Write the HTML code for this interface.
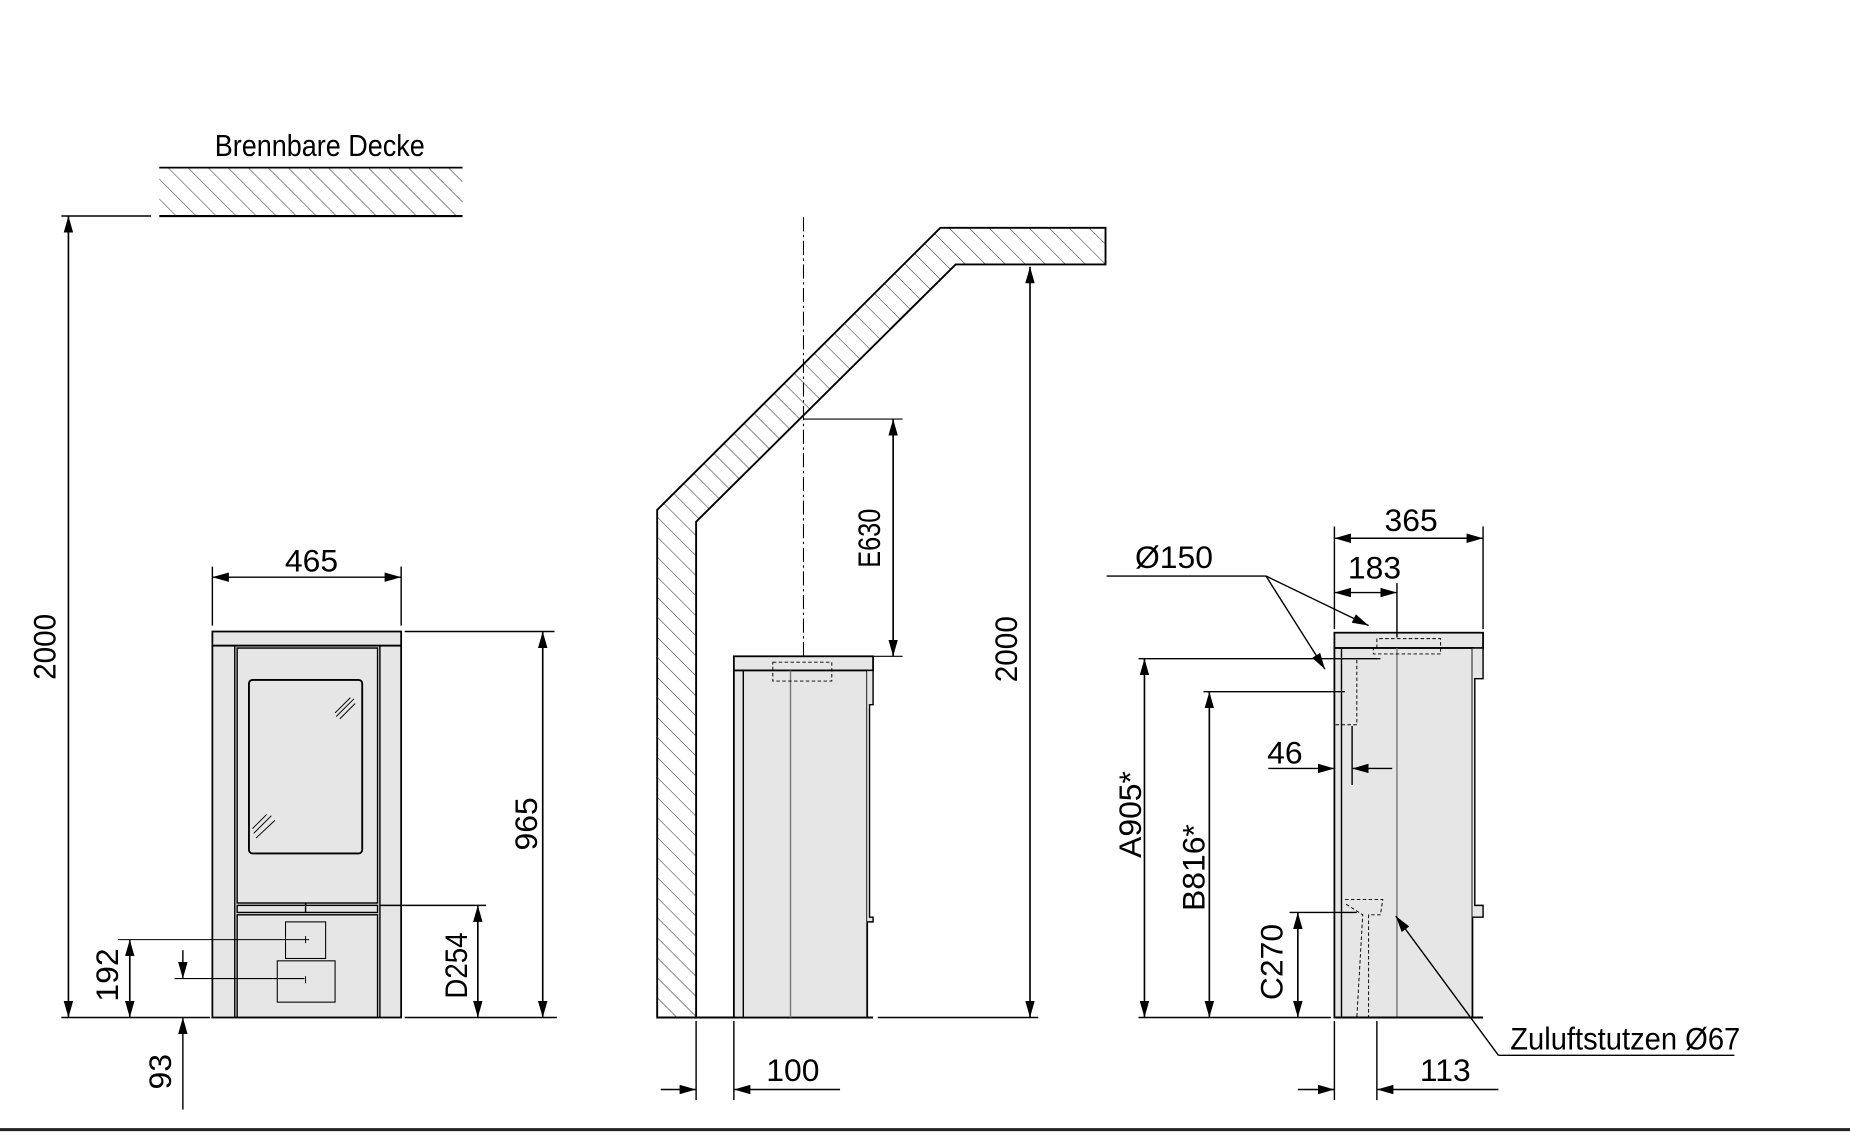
<!DOCTYPE html>
<html><head><meta charset="utf-8"><style>
html,body{margin:0;padding:0;background:#fff;}
svg{display:block}
text{font-family:"Liberation Sans",sans-serif;fill:#000}
</style></head><body>
<svg width="1850" height="1132" viewBox="0 0 1568 959" preserveAspectRatio="none" xmlns="http://www.w3.org/2000/svg">
<defs>
<pattern id="h" width="12" height="12" patternUnits="userSpaceOnUse" patternTransform="rotate(-45)">
<line x1="0" y1="0" x2="0" y2="12" stroke="#333" stroke-width="0.9"/>
</pattern>
<marker id="a" viewBox="0 0 14 8" refX="14" refY="4" markerWidth="14" markerHeight="8" markerUnits="userSpaceOnUse" orient="auto-start-reverse">
<path d="M0,0 L14,4 L0,8 z" fill="#000"/>
</marker>
</defs>
<g stroke="#000" fill="none" stroke-width="1.2">

<!-- LEFT VIEW -->
<text x="182" y="132" font-size="26" textLength="178" lengthAdjust="spacingAndGlyphs" stroke="none">Brennbare Decke</text>
<rect x="135" y="142" width="257" height="41" fill="url(#h)" stroke="none"/>
<line x1="135" y1="142" x2="392" y2="142" stroke-width="1.5"/>
<line x1="135" y1="183" x2="392" y2="183" stroke-width="1.8"/>
<line x1="52" y1="183" x2="128" y2="183"/>
<line x1="58" y1="183" x2="58" y2="862" marker-start="url(#a)" marker-end="url(#a)" stroke-width="1.4"/>
<text transform="translate(47,548) rotate(-90)" font-size="27" text-anchor="middle" textLength="56" lengthAdjust="spacingAndGlyphs" stroke="none">2000</text>
<line x1="52" y1="862" x2="178" y2="862"/>
<line x1="343" y1="862" x2="472" y2="862"/>

<!-- stove front -->
<rect x="180" y="535" width="160" height="12" fill="#e6e6e6" stroke-width="1.5"/>
<rect x="180" y="547" width="160" height="315" fill="#e6e6e6" stroke-width="1.5"/>
<line x1="199" y1="547" x2="199" y2="862"/>
<line x1="322" y1="547" x2="322" y2="862"/>
<rect x="201" y="549" width="119" height="216" fill="#e6e6e6"/>
<rect x="211" y="576" width="96" height="147" rx="3" stroke-width="1.6"/>
<g stroke-width="0.8">
<line x1="285" y1="607" x2="300" y2="592"/><line x1="288" y1="609" x2="301" y2="596"/><line x1="284" y1="604" x2="297" y2="591"/>
<line x1="215" y1="706" x2="230" y2="691"/><line x1="217" y1="710" x2="233" y2="695"/><line x1="214" y1="702" x2="226" y2="690"/>
</g>
<rect x="201" y="767" width="119" height="6"/>
<line x1="259" y1="765" x2="259" y2="773"/>
<rect x="201" y="775" width="119" height="87"/>
<rect x="242" y="781" width="34" height="31" stroke-width="0.9"/>
<rect x="235" y="814" width="49" height="35" stroke-width="0.9"/>
<line x1="259" y1="793" x2="259" y2="799" stroke-width="0.8"/>
<line x1="259" y1="827" x2="259" y2="833" stroke-width="0.8"/>

<line x1="180" y1="480" x2="180" y2="530"/>
<line x1="340" y1="480" x2="340" y2="530"/>
<line x1="180" y1="489" x2="340" y2="489" marker-start="url(#a)" marker-end="url(#a)"/>
<text x="264" y="484" font-size="27" text-anchor="middle" stroke="none">465</text>

<line x1="343" y1="535" x2="470" y2="535"/>
<line x1="460" y1="535" x2="460" y2="862" marker-start="url(#a)" marker-end="url(#a)" stroke-width="1.4"/>
<text transform="translate(455,698) rotate(-90)" font-size="27" text-anchor="middle" stroke="none">965</text>

<line x1="322" y1="767" x2="412" y2="767"/>
<line x1="405" y1="767" x2="405" y2="862" marker-start="url(#a)" marker-end="url(#a)" stroke-width="1.4"/>
<text transform="translate(396,818) rotate(-90)" font-size="27" text-anchor="middle" textLength="56" lengthAdjust="spacingAndGlyphs" stroke="none">D254</text>

<line x1="100" y1="796" x2="262" y2="796" stroke-width="0.9"/>
<line x1="110" y1="796" x2="110" y2="862" marker-start="url(#a)" marker-end="url(#a)" stroke-width="1.4"/>
<text transform="translate(100,826) rotate(-90)" font-size="27" text-anchor="middle" stroke="none">192</text>

<line x1="148" y1="829" x2="258" y2="829" stroke-width="0.9"/>
<line x1="155" y1="805" x2="155" y2="829" marker-end="url(#a)"/>
<line x1="155" y1="940" x2="155" y2="862" marker-end="url(#a)"/>
<text transform="translate(145,908) rotate(-90)" font-size="27" text-anchor="middle" stroke="none">93</text>

<!-- MIDDLE VIEW -->
<path d="M557,862 L557,432 L797,193 L937,193 L937,224 L810,224 L590,442 L590,862 Z" fill="url(#h)" stroke-width="1.6"/>
<line x1="681" y1="184" x2="681" y2="556" stroke-width="0.9" stroke-dasharray="12,3,2,3"/>
<line x1="681" y1="355" x2="765" y2="355" stroke-width="0.9"/>
<line x1="740" y1="556" x2="765" y2="556" stroke-width="0.9"/>
<line x1="757" y1="355" x2="757" y2="556" marker-start="url(#a)" marker-end="url(#a)" stroke-width="1.4"/>
<text transform="translate(746,456) rotate(-90)" font-size="27" text-anchor="middle" textLength="50" lengthAdjust="spacingAndGlyphs" stroke="none">E630</text>
<line x1="873" y1="226" x2="873" y2="862" marker-start="url(#a)" marker-end="url(#a)" stroke-width="1.4"/>
<text transform="translate(862,550) rotate(-90)" font-size="27" text-anchor="middle" textLength="56" lengthAdjust="spacingAndGlyphs" stroke="none">2000</text>
<line x1="557" y1="862" x2="740" y2="862" stroke-width="1.6"/>
<line x1="744" y1="862" x2="880" y2="862"/>

<rect x="622" y="556" width="118" height="12" fill="#e6e6e6" stroke-width="1.5"/>
<rect x="622" y="568" width="113" height="294" fill="#e6e6e6" stroke-width="1.5"/>
<line x1="630" y1="568" x2="630" y2="862"/>
<line x1="670" y1="568" x2="670" y2="862" stroke="#777"/>
<rect x="655" y="561" width="50" height="16" stroke-dasharray="3,2" stroke-width="0.8"/>
<path d="M735,568 L740,568 L740,597 L737,597 L737,777 L740,777 L740,781 L735,781" fill="#e6e6e6"/>
<line x1="590" y1="865" x2="590" y2="932"/>
<line x1="622" y1="865" x2="622" y2="932"/>
<line x1="560" y1="923" x2="590" y2="923" marker-end="url(#a)"/>
<line x1="712" y1="923" x2="622" y2="923" marker-end="url(#a)"/>
<text x="672" y="916" font-size="27" text-anchor="middle" stroke="none">100</text>

<!-- RIGHT VIEW -->
<rect x="1131" y="536" width="126" height="13" fill="#e6e6e6" stroke-width="1.5"/>
<rect x="1131" y="549" width="117" height="313" fill="#e6e6e6" stroke-width="1.5"/>
<line x1="1137" y1="549" x2="1137" y2="862"/>
<line x1="1184" y1="549" x2="1184" y2="862" stroke="#777"/>
<path d="M1248,549 L1257,549 L1257,575 L1250,575 L1250,767 L1257,767 L1257,777 L1248,777" fill="#e6e6e6"/>
<line x1="1131" y1="862" x2="1257" y2="862" stroke-width="1.6"/>
<path d="M1167,549 L1167,541 L1221,541 L1221,554 L1164,554 L1164,549" stroke-dasharray="3,2" stroke-width="0.8"/>
<path d="M1131,558 L1150,558 L1150,614 L1131,614" stroke-dasharray="3,2" stroke-width="0.8"/>
<path d="M1140,762 L1172,762 L1170,775 L1160,775 L1160,862 M1141,766 L1155,775 L1150,862" stroke-dasharray="3,2" stroke-width="0.8"/>

<line x1="1131" y1="446" x2="1131" y2="533"/>
<line x1="1257" y1="446" x2="1257" y2="533"/>
<line x1="1131" y1="456" x2="1257" y2="456" marker-start="url(#a)" marker-end="url(#a)"/>
<text x="1196" y="450" font-size="27" text-anchor="middle" stroke="none">365</text>
<line x1="1184" y1="494" x2="1184" y2="540"/>
<line x1="1131" y1="502" x2="1184" y2="502" marker-start="url(#a)" marker-end="url(#a)"/>
<text x="1165" y="490" font-size="27" text-anchor="middle" stroke="none">183</text>

<text x="995" y="481" font-size="27" text-anchor="middle" stroke="none">Ø150</text>
<line x1="938" y1="488" x2="1073" y2="488"/>
<line x1="1073" y1="488" x2="1160" y2="530" marker-end="url(#a)"/>
<line x1="1073" y1="488" x2="1123" y2="567" marker-end="url(#a)"/>

<line x1="965" y1="558" x2="1170" y2="558"/>
<line x1="970" y1="558" x2="970" y2="862" marker-start="url(#a)" marker-end="url(#a)" stroke-width="1.4"/>
<text transform="translate(967,690) rotate(-90)" font-size="27" text-anchor="middle" stroke="none">A905*</text>
<line x1="1020" y1="586" x2="1140" y2="586"/>
<line x1="1025" y1="586" x2="1025" y2="862" marker-start="url(#a)" marker-end="url(#a)" stroke-width="1.4"/>
<text transform="translate(1021,735) rotate(-90)" font-size="27" text-anchor="middle" stroke="none">B816*</text>
<line x1="965" y1="862" x2="1128" y2="862"/>

<line x1="1146" y1="615" x2="1146" y2="665"/>
<line x1="1075" y1="651" x2="1131" y2="651" marker-end="url(#a)"/>
<line x1="1180" y1="651" x2="1146" y2="651" marker-end="url(#a)"/>
<text x="1089" y="647" font-size="27" text-anchor="middle" stroke="none">46</text>

<line x1="1093" y1="773" x2="1150" y2="773"/>
<line x1="1100" y1="773" x2="1100" y2="862" marker-start="url(#a)" marker-end="url(#a)" stroke-width="1.4"/>
<text transform="translate(1087,815) rotate(-90)" font-size="27" text-anchor="middle" stroke="none">C270</text>

<text x="1280" y="889" font-size="27" textLength="195" lengthAdjust="spacingAndGlyphs" stroke="none">Zuluftstutzen Ø67</text>
<line x1="1270" y1="894" x2="1470" y2="894"/>
<line x1="1270" y1="894" x2="1183" y2="776" marker-end="url(#a)"/>

<line x1="1131" y1="865" x2="1131" y2="932"/>
<line x1="1167" y1="865" x2="1167" y2="932"/>
<line x1="1100" y1="923" x2="1131" y2="923" marker-end="url(#a)"/>
<line x1="1270" y1="923" x2="1167" y2="923" marker-end="url(#a)"/>
<text x="1225" y="916" font-size="27" text-anchor="middle" stroke="none">113</text>

<line x1="0" y1="957" x2="1568" y2="957" stroke="#222" stroke-width="2.5"/>
</g>
</svg>
</body></html>
